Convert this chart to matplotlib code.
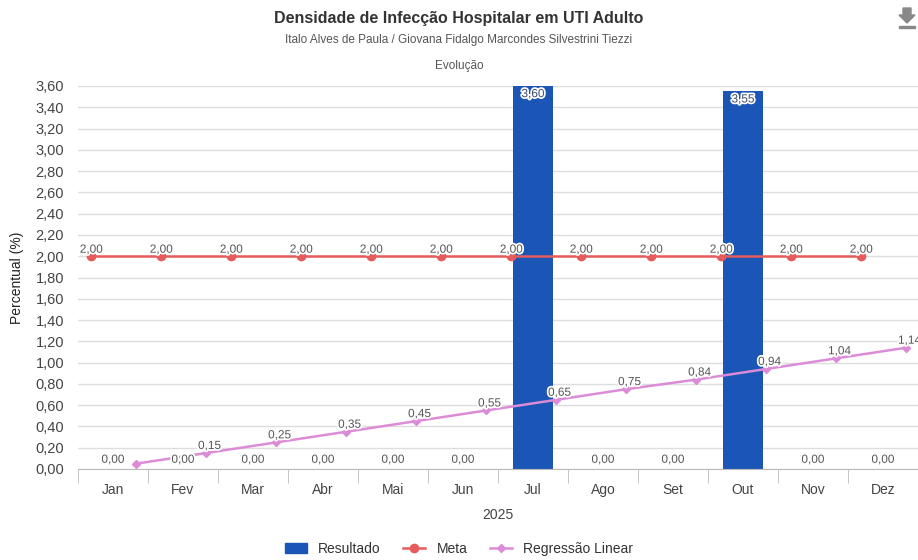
import numpy as np
import matplotlib.pyplot as plt
import matplotlib.patheffects as pe
from matplotlib.lines import Line2D
from matplotlib.patches import Patch, Polygon, Rectangle

plt.rcParams['font.family'] = ['Liberation Sans', 'DejaVu Sans']

# dados do grafico
meses = ["Jan", "Fev", "Mar", "Abr", "Mai", "Jun", "Jul", "Ago", "Set", "Out", "Nov", "Dez"]
resultado = [0.00, 0.00, 0.00, 0.00, 0.00, 0.00, 3.60, 0.00, 0.00, 3.55, 0.00, 0.00]
meta = [2.00] * 12
regressao = [0.05, 0.15, 0.25, 0.35, 0.45, 0.55, 0.65, 0.75, 0.84, 0.94, 1.04, 1.14]

cor_bar = "#1b56b6"
cor_meta = "#e65c5c"
cor_reg = "#dc8cd6"

fmt = lambda v: f"{v:.2f}".replace(".", ",")
halo = [pe.withStroke(linewidth=2.5, foreground="white")]

fig = plt.figure(figsize=(9.18, 5.6), dpi=100)
ax = fig.add_axes([78/918, 1 - 469/560, 840/918, 383/560])

x = np.arange(len(meses))
off_meta, off_reg = -0.31, 0.33

ax.bar(x, resultado, width=0.57, color=cor_bar, zorder=2)
ax.plot(x + off_meta, meta, color=cor_meta, lw=1.8, marker="o", ms=6, zorder=3)
ax.plot(x + off_reg, regressao, color=cor_reg, lw=1.8, marker="D", ms=4, zorder=3)

# rotulos de dados
for i, v in enumerate(resultado):
    if v > 0:
        ax.text(i, v - 0.02, fmt(v), ha="center", va="top", fontsize=8.5,
                color="#3a4a6a", path_effects=halo, zorder=4)
    else:
        ax.text(i, v + 0.03, fmt(v), ha="center", va="bottom", fontsize=8.5,
                color="#555555", path_effects=halo, zorder=4)
for i, v in enumerate(meta):
    ax.text(i + off_meta, v + 0.005, fmt(v), ha="center", va="bottom", fontsize=8.5,
            color="#555555", path_effects=halo, zorder=4)
for i, v in enumerate(regressao):
    if i == 0:
        continue
    ax.text(i + off_reg + 0.05, v + 0.01, fmt(v), ha="center", va="bottom", fontsize=8.5,
            color="#555555", path_effects=halo, zorder=4, clip_on=False)

ax.set_xlim(-0.5, 11.5)
ax.set_ylim(0, 3.6)
ax.set_yticks(np.arange(0, 3.61, 0.2))
ax.set_yticklabels([fmt(v) for v in np.arange(0, 3.61, 0.2)])
ax.set_xticks(x)
ax.set_xticklabels(meses)
ax.set_xticks(np.arange(-0.5, 12, 1), minor=True)
ax.tick_params(axis="x", which="major", length=0, pad=10, labelsize=10, labelcolor="#444444")
ax.tick_params(axis="x", which="minor", length=10, color="#bbbbbb")
ax.tick_params(axis="y", length=0, pad=10, labelsize=10.5, labelcolor="#444444")
ax.grid(axis="y", color="#dddddd", lw=1, zorder=0)
ax.set_axisbelow(True)
for s in ["top", "right", "left"]:
    ax.spines[s].set_visible(False)
ax.spines["bottom"].set_color("#bbbbbb")
ax.set_xlabel("2025", fontsize=10, color="#444444", labelpad=8)
ax.set_ylabel("Percentual (%)", fontsize=10, color="#222222", labelpad=8)

fig.text(0.5, 1 - 18/560, "Densidade de Infecção Hospitalar em UTI Adulto", ha="center",
         va="center", fontsize=11.5, fontweight="bold", color="#333333")
fig.text(0.5, 1 - 40/560, "Italo Alves de Paula / Giovana Fidalgo Marcondes Silvestrini Tiezzi",
         ha="center", va="center", fontsize=8.5, color="#555555")
fig.text(0.5, 1 - 66/560, "Evolução", ha="center", va="center", fontsize=8.5, color="#555555")

# icone de download
fig.patches.append(Polygon([[903/918, 1-8/560], [911/918, 1-8/560], [911/918, 1-15/560],
                            [915/918, 1-15/560], [907/918, 1-23/560], [899/918, 1-15/560],
                            [903/918, 1-15/560]], closed=True, transform=fig.transFigure,
                           color="#888888"))
fig.patches.append(Rectangle((899/918, 1-28/560), 16/918, 2.5/560, transform=fig.transFigure,
                             color="#888888"))

handles = [Patch(color=cor_bar),
           Line2D([], [], color=cor_meta, marker="o", ms=6, lw=1.8),
           Line2D([], [], color=cor_reg, marker="D", ms=4, lw=1.8)]
fig.legend(handles, ["Resultado", "Meta", "Regressão Linear"], loc="center",
           bbox_to_anchor=(0.5, 1 - 549/560), ncol=3, frameon=False, fontsize=10,
           handlelength=1.6, columnspacing=1.6, labelcolor="#333333")

fig.savefig("out.png", dpi=100)
